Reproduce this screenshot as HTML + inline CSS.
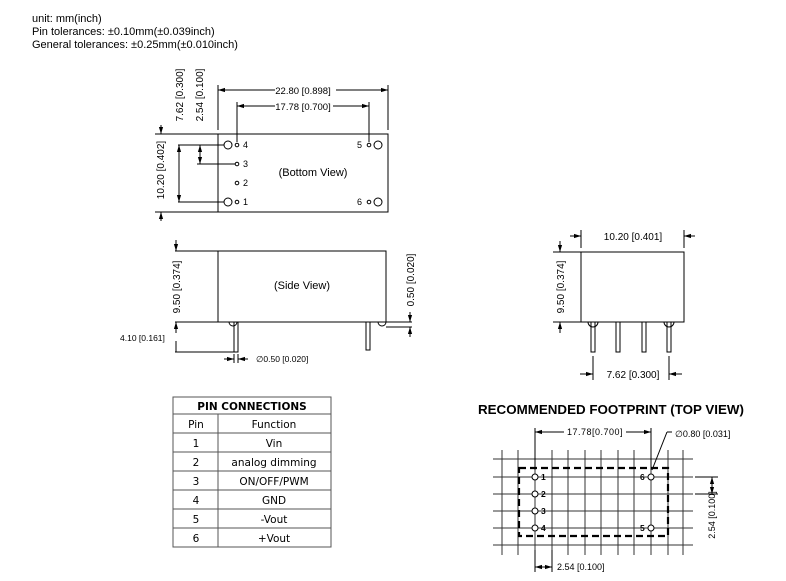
<!DOCTYPE html>
<html><head><style>
body{margin:0;background:#fff;}
svg{display:block;font-family:"Liberation Sans",Arial,sans-serif;}
</style></head><body>
<svg width="786" height="581" viewBox="0 0 786 581" xmlns="http://www.w3.org/2000/svg">
<defs>
<marker id="a" viewBox="0 0 10 10" refX="10" refY="5" markerWidth="7" markerHeight="7" orient="auto-start-reverse"><path d="M0,2 L10,5 L0,8 z" fill="#000"/></marker>
</defs>
<g font-size="11" fill="#000">
<text x="32" y="22">unit: mm(inch)</text>
<text x="32" y="35">Pin tolerances: ±0.10mm(±0.039inch)</text>
<text x="32" y="48">General tolerances: ±0.25mm(±0.010inch)</text>
</g>
<g stroke="#000" stroke-width="1" fill="none">
<!-- bottom view -->
<rect x="218" y="134" width="170" height="78"/>
<line x1="218" y1="85" x2="218" y2="130"/><line x1="388" y1="85" x2="388" y2="130"/>
<line x1="218" y1="90" x2="275" y2="90" marker-start="url(#a)"/><line x1="336" y1="90" x2="388" y2="90" marker-end="url(#a)"/>
<line x1="237" y1="102" x2="237" y2="142"/><line x1="369" y1="102" x2="369" y2="142"/>
<line x1="237" y1="106" x2="275" y2="106" marker-start="url(#a)"/><line x1="333" y1="106" x2="369" y2="106" marker-end="url(#a)"/>
<circle cx="228" cy="145" r="4"/><circle cx="237" cy="145" r="1.8"/>
<circle cx="237" cy="164" r="1.8"/><circle cx="237" cy="183" r="1.8"/>
<circle cx="228" cy="202" r="4"/><circle cx="237" cy="202" r="1.8"/>
<circle cx="378" cy="145" r="4"/><circle cx="369" cy="145" r="1.8"/>
<circle cx="378" cy="202" r="4"/><circle cx="369" cy="202" r="1.8"/>
<line x1="155" y1="134" x2="218" y2="134"/><line x1="155" y1="212" x2="218" y2="212"/>
<line x1="161" y1="125" x2="161" y2="134" marker-end="url(#a)"/><line x1="161" y1="221" x2="161" y2="212" marker-end="url(#a)"/>
<line x1="178" y1="145" x2="224" y2="145"/><line x1="178" y1="202" x2="224" y2="202"/>
<line x1="179" y1="145" x2="179" y2="202" marker-start="url(#a)" marker-end="url(#a)"/>
<line x1="197" y1="164" x2="235" y2="164"/>
<line x1="200" y1="145" x2="200" y2="164" marker-start="url(#a)" marker-end="url(#a)"/>
<!-- side view -->
<rect x="218" y="251" width="168" height="71"/>
<line x1="175" y1="251" x2="218" y2="251"/><line x1="175" y1="322" x2="232" y2="322"/>
<line x1="176" y1="240" x2="176" y2="251" marker-end="url(#a)"/><line x1="176" y1="333" x2="176" y2="322" marker-end="url(#a)"/>
<line x1="176" y1="341" x2="176" y2="352"/><line x1="175" y1="352" x2="234" y2="352"/>
<rect x="234" y="322" width="4" height="30"/><rect x="366" y="322" width="4" height="28"/>
<path d="M229,322 a4,4 0 0 0 8,0"/><path d="M378,322 a4,4 0 0 0 8,0"/>
<line x1="384" y1="322" x2="412" y2="322"/><line x1="386" y1="327" x2="412" y2="327"/>
<line x1="410" y1="312" x2="410" y2="322" marker-end="url(#a)"/><line x1="410" y1="337" x2="410" y2="327" marker-end="url(#a)"/>
<line x1="224" y1="359" x2="234" y2="359" marker-end="url(#a)"/><line x1="248" y1="359" x2="238" y2="359" marker-end="url(#a)"/>
<line x1="234" y1="354" x2="234" y2="363"/><line x1="238" y1="354" x2="238" y2="363"/>
<!-- end view -->
<rect x="581" y="252" width="103" height="70"/>
<line x1="581" y1="230" x2="581" y2="248"/><line x1="684" y1="230" x2="684" y2="248"/>
<line x1="570" y1="236" x2="581" y2="236" marker-end="url(#a)"/><line x1="695" y1="236" x2="684" y2="236" marker-end="url(#a)"/>
<line x1="553" y1="252" x2="581" y2="252"/><line x1="553" y1="322" x2="588" y2="322"/>
<line x1="560" y1="241" x2="560" y2="252" marker-end="url(#a)"/><line x1="560" y1="333" x2="560" y2="322" marker-end="url(#a)"/>
<rect x="591" y="322" width="4" height="30"/><rect x="616" y="322" width="4" height="30"/>
<rect x="642" y="322" width="4" height="30"/><rect x="667" y="322" width="4" height="30"/>
<path d="M588,322 a5,5 0 0 0 10,0"/><path d="M664,322 a5,5 0 0 0 10,0"/>
<line x1="593" y1="356" x2="593" y2="380"/><line x1="669" y1="356" x2="669" y2="380"/>
<line x1="580" y1="374" x2="593" y2="374" marker-end="url(#a)"/><line x1="682" y1="374" x2="669" y2="374" marker-end="url(#a)"/>
</g>
<g font-size="10" fill="#000">
<text x="303" y="94" text-anchor="middle" font-size="9.5">22.80 [0.898]</text>
<text x="303" y="110" text-anchor="middle" font-size="9.5">17.78 [0.700]</text>
<text x="243" y="148" font-size="9">4</text><text x="243" y="167" font-size="9">3</text>
<text x="243" y="186" font-size="9">2</text><text x="243" y="205" font-size="9">1</text>
<text x="357" y="148" font-size="9">5</text><text x="357" y="205" font-size="9">6</text>
<text x="313" y="176" text-anchor="middle" font-size="11">(Bottom View)</text>
<text transform="translate(164,170) rotate(-90)" text-anchor="middle">10.20 [0.402]</text>
<text transform="translate(183,95) rotate(-90)" text-anchor="middle">7.62 [0.300]</text>
<text transform="translate(203,95) rotate(-90)" text-anchor="middle">2.54 [0.100]</text>
<text x="302" y="289" text-anchor="middle" font-size="11">(Side View)</text>
<text transform="translate(180,287) rotate(-90)" text-anchor="middle">9.50 [0.374]</text>
<text x="120" y="341" font-size="8.5">4.10 [0.161]</text>
<text x="256" y="362" font-size="8.5">∅0.50 [0.020]</text>
<text transform="translate(414,280) rotate(-90)" text-anchor="middle">0.50 [0.020]</text>
<text x="633" y="240" text-anchor="middle">10.20 [0.401]</text>
<text transform="translate(564,287) rotate(-90)" text-anchor="middle">9.50 [0.374]</text>
<text x="633" y="378" text-anchor="middle">7.62 [0.300]</text>
</g>
<!-- table -->
<g stroke="#555" stroke-width="1" fill="none">
<rect x="173" y="397" width="158" height="150"/>
<line x1="173" y1="414" x2="331" y2="414"/><line x1="173" y1="433" x2="331" y2="433"/>
<line x1="173" y1="452" x2="331" y2="452"/><line x1="173" y1="471" x2="331" y2="471"/>
<line x1="173" y1="490" x2="331" y2="490"/><line x1="173" y1="509" x2="331" y2="509"/>
<line x1="173" y1="528" x2="331" y2="528"/>
<line x1="218" y1="414" x2="218" y2="547"/>
</g>
<g font-family="'DejaVu Sans',sans-serif" font-size="10.5" fill="#000" text-anchor="middle">
<text x="252" y="410" font-weight="bold" font-size="10.5">PIN CONNECTIONS</text>
<text x="196" y="428">Pin</text><text x="274" y="428">Function</text>
<text x="196" y="447">1</text><text x="274" y="447">Vin</text>
<text x="196" y="466">2</text><text x="274" y="466">analog dimming</text>
<text x="196" y="485">3</text><text x="274" y="485">ON/OFF/PWM</text>
<text x="196" y="504">4</text><text x="274" y="504">GND</text>
<text x="196" y="523">5</text><text x="274" y="523">-Vout</text>
<text x="196" y="542">6</text><text x="274" y="542">+Vout</text>
</g>
<!-- footprint -->
<text x="478" y="414" font-weight="bold" font-size="13" textLength="266" lengthAdjust="spacingAndGlyphs">RECOMMENDED FOOTPRINT (TOP VIEW)</text>
<g stroke="#333" stroke-width="1" fill="none">
<path d="M493,459H693M493,477H693M493,494H693M493,511H693M493,528H693M493,545H693"/>
<path d="M502,450V555M518,450V555M535,450V555M552,450V555M568,450V555M585,450V555M601,450V555M618,450V555M634,450V555M651,450V555M668,450V555M683,450V555"/>
</g>
<rect x="519" y="468" width="149" height="68" fill="none" stroke="#000" stroke-width="2.2" stroke-dasharray="7,4"/>
<g stroke="#000" fill="#fff" stroke-width="1">
<circle cx="535" cy="477" r="3"/><circle cx="535" cy="494" r="3"/><circle cx="535" cy="511" r="3"/><circle cx="535" cy="528" r="3"/>
<circle cx="651" cy="477" r="3"/><circle cx="651" cy="528" r="3"/>
</g>
<g stroke="#000" fill="none">
<line x1="535" y1="428" x2="535" y2="470"/><line x1="651" y1="428" x2="651" y2="470"/>
<line x1="535" y1="432" x2="564" y2="432" marker-start="url(#a)"/><line x1="626" y1="432" x2="651" y2="432" marker-end="url(#a)"/>
<line x1="652" y1="470" x2="667" y2="432"/><line x1="667" y1="432" x2="672" y2="432"/>
<line x1="695" y1="477" x2="718" y2="477"/><line x1="695" y1="494" x2="718" y2="494"/>
<line x1="712" y1="477" x2="712" y2="494" marker-start="url(#a)" marker-end="url(#a)"/>
<line x1="535" y1="550" x2="535" y2="572"/><line x1="552" y1="550" x2="552" y2="572"/>
<line x1="535" y1="567" x2="552" y2="567" marker-start="url(#a)" marker-end="url(#a)"/>
</g>
<g font-size="8.5" fill="#000" font-weight="bold">
<text x="541" y="480">1</text><text x="541" y="497">2</text><text x="541" y="514">3</text><text x="541" y="531">4</text>
<text x="640" y="480">6</text><text x="640" y="531">5</text>
</g>
<g font-size="9" fill="#000">
<text x="595" y="435" text-anchor="middle" letter-spacing="0.5">17.78[0.700]</text>
<text x="675" y="437">∅0.80 [0.031]</text>
<text transform="translate(715,515) rotate(-90)" text-anchor="middle">2.54 [0.100]</text>
<text x="557" y="570">2.54 [0.100]</text>
</g>
</svg>
</body></html>
